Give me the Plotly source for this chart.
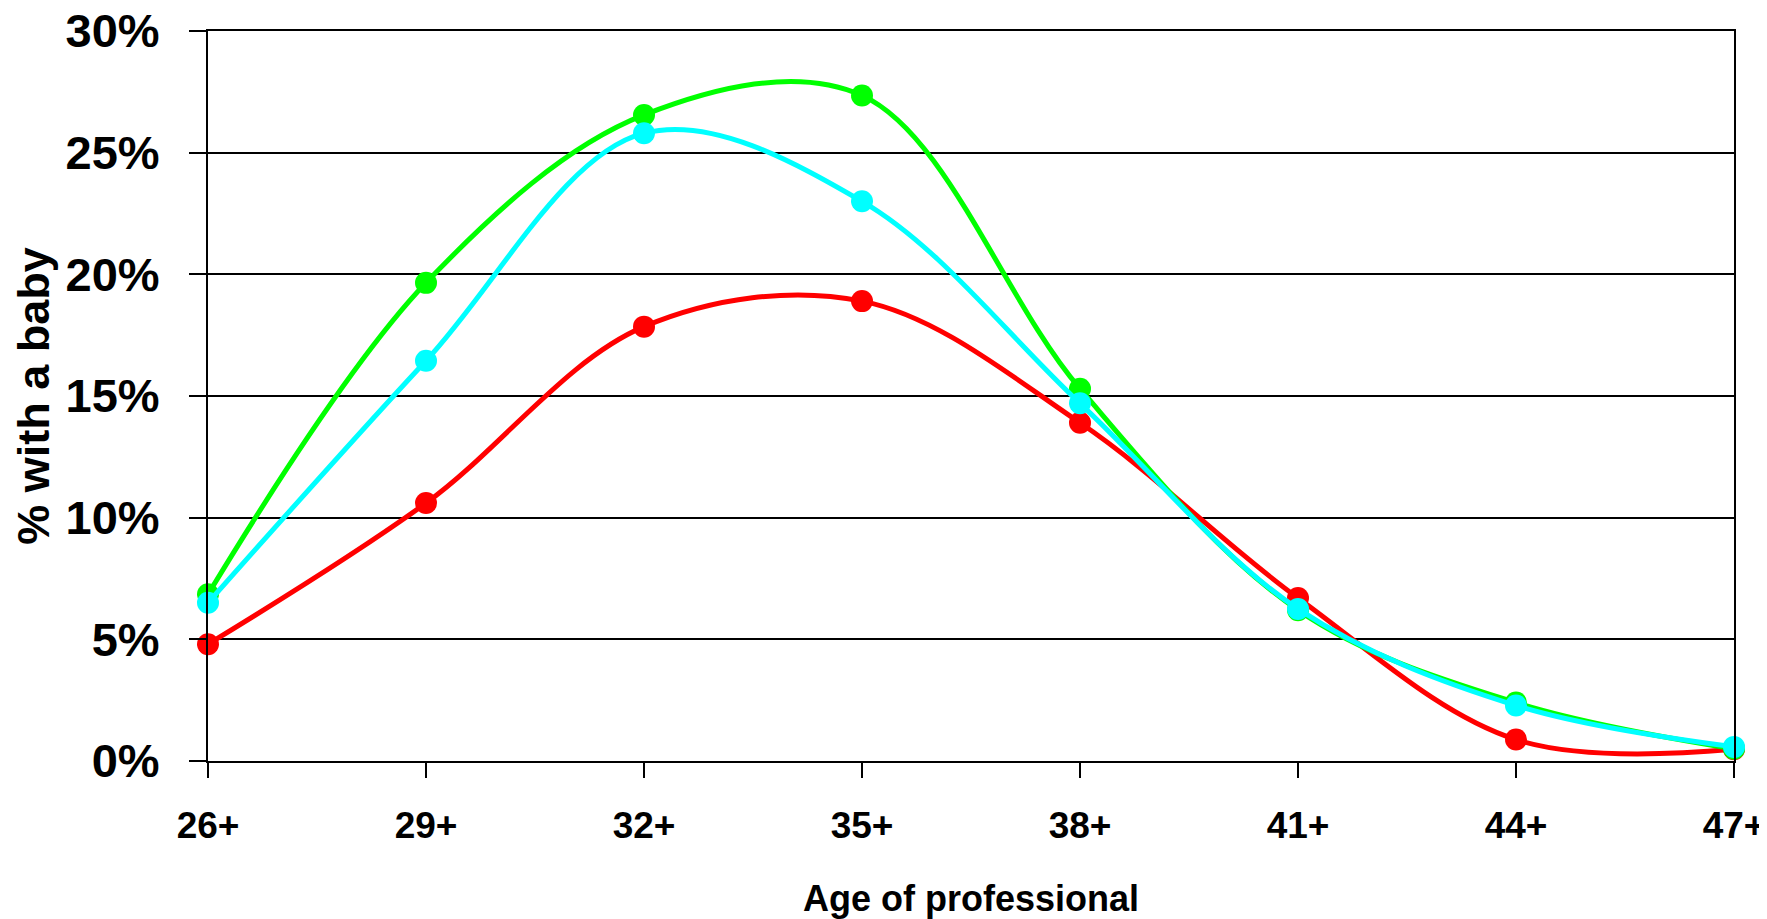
import plotly.graph_objects as go

ages = ["26+", "29+", "32+", "35+", "38+", "41+", "44+", "47+"]
red_vals = [4.8, 10.6, 17.85, 18.9, 13.9, 6.7, 0.88, 0.48]
green_vals = [6.85, 19.65, 26.55, 27.35, 15.3, 6.2, 2.4, 0.5]
cyan_vals = [6.5, 16.45, 25.8, 23.0, 14.7, 6.25, 2.28, 0.58]

series = [
    ("red", red_vals, "#FF0000"),
    ("green", green_vals, "#00FF00"),
    ("cyan", cyan_vals, "#00FFFF"),
]

fig = go.Figure()
for name, vals, col in series:
    fig.add_trace(go.Scatter(
        x=ages, y=[v / 100 for v in vals], name=name,
        mode="lines+markers",
        line=dict(color=col, width=5, shape="spline", smoothing=1.0),
        marker=dict(color=col, size=22),
        cliponaxis=False,
    ))

font = "Liberation Sans, Arial, sans-serif"

fig.update_layout(
    width=1759, height=911,
    margin=dict(l=200, r=33, t=23, b=158),
    paper_bgcolor="white", plot_bgcolor="white",
    showlegend=False,
    xaxis=dict(
        type="category", range=[0, 7], automargin=False,
        showline=True, linecolor="black", linewidth=2, mirror=True,
        showgrid=False, zeroline=False,
        ticks="outside", ticklen=15, tickwidth=2, tickcolor="black",
        tickfont=dict(family=font, size=37, color="black", weight="bold"),
        ticklabelstandoff=16, ticklabeloverflow="allow",
        title=dict(text="Age of professional", standoff=44,
                   font=dict(family=font, size=36, color="black", weight="bold")),
    ),
    yaxis=dict(
        range=[0, 0.30], tickvals=[0, 0.05, 0.10, 0.15, 0.20, 0.25, 0.30],
        tickformat=".0%", automargin=False,
        showline=True, linecolor="black", linewidth=2, mirror=True,
        showgrid=True, gridcolor="black", gridwidth=2, zeroline=False,
        ticks="outside", ticklen=17, tickwidth=2, tickcolor="black",
        tickfont=dict(family=font, size=47, color="black", weight="bold"),
        ticklabelstandoff=20, ticklabeloverflow="allow",
        title=dict(text="% with a baby", standoff=16,
                   font=dict(family=font, size=45, color="black", weight="bold")),
    ),
)

fig.write_html("out.html")
